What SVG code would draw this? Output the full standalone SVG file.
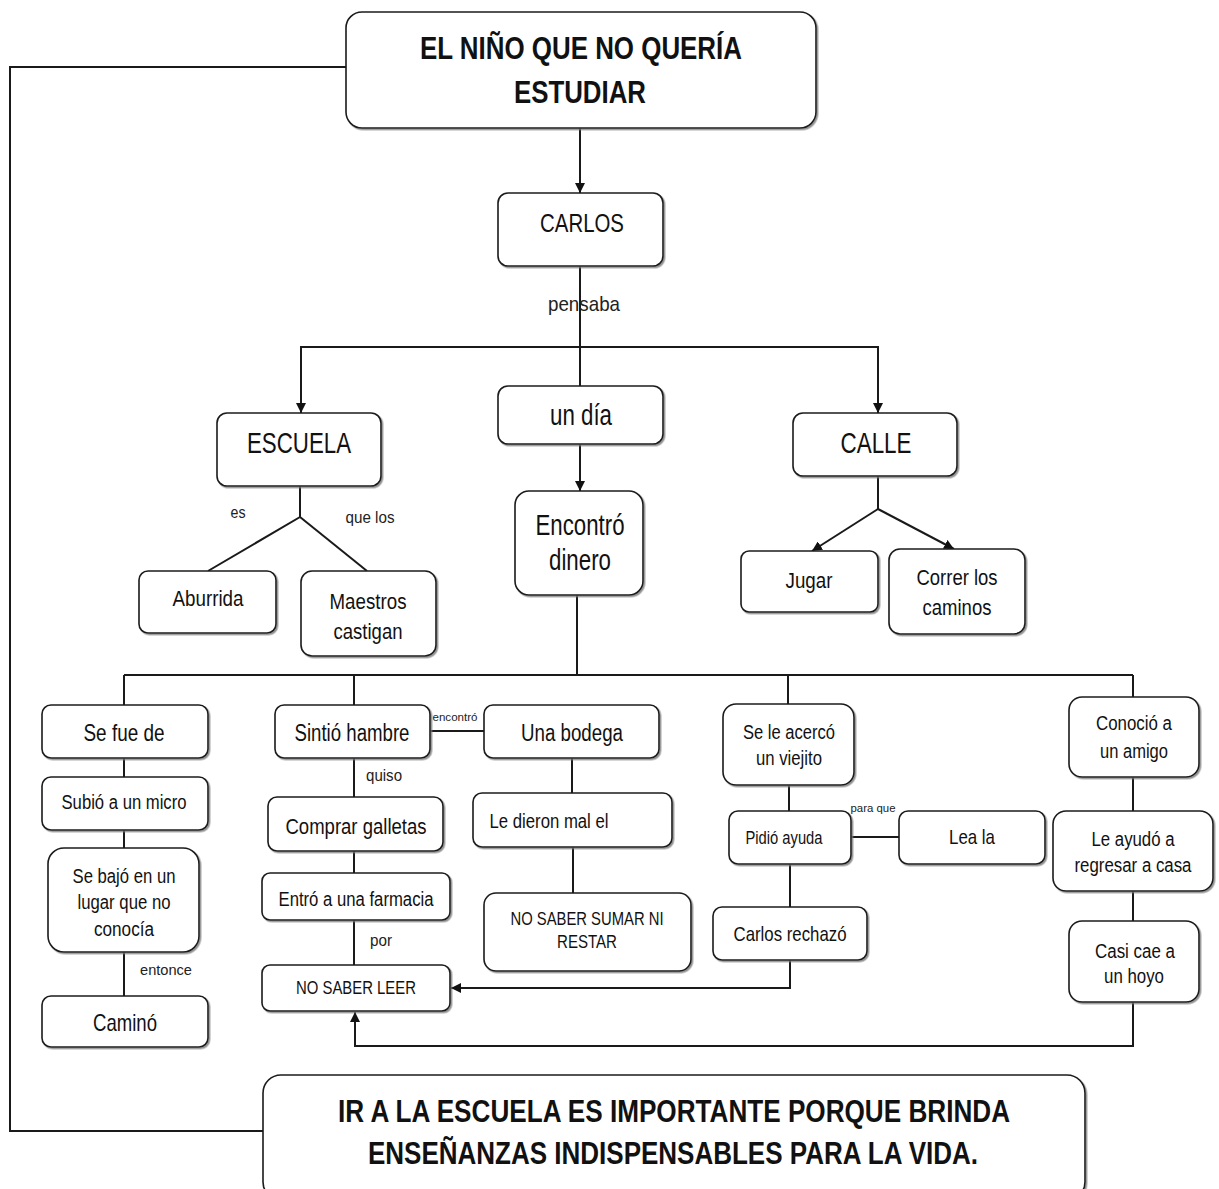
<svg xmlns="http://www.w3.org/2000/svg" width="1219" height="1189" viewBox="0 0 1219 1189">
<defs>
<marker id="arr" viewBox="0 0 10 10" refX="10" refY="5" markerWidth="10" markerHeight="10" markerUnits="userSpaceOnUse" orient="auto">
<path d="M0,0 L10,5 L0,10 z" fill="#111"/>
</marker>
<filter id="sh" x="-5%" y="-5%" width="110%" height="115%">
<feDropShadow dx="1.5" dy="1.5" stdDeviation="0.6" flood-color="#777" flood-opacity="0.8"/>
</filter>
</defs>
<style>
.bx{fill:#fff;stroke:#1a1a1a;stroke-width:1.6;filter:url(#sh)}
.ln{fill:none;stroke:#1a1a1a;stroke-width:2}
.ar{fill:none;stroke:#1a1a1a;stroke-width:2;marker-end:url(#arr)}
text{font-family:"Liberation Sans",Arial,sans-serif;fill:#111;text-anchor:middle}
.b{font-weight:bold}
.lbl{fill:#222}
</style>
<rect width="1219" height="1189" fill="#fff"/>

<g id="connectors">
<polyline class="ln" points="346,67 10,67 10,1131 263,1131"/>
<line class="ar" x1="580" y1="128" x2="580" y2="193"/>
<line class="ln" x1="580" y1="266" x2="580" y2="386"/>
<polyline class="ar" points="580,347 301,347 301,413"/>
<polyline class="ar" points="580,347 878,347 878,413"/>
<line class="ar" x1="580" y1="444" x2="580" y2="491"/>
<polyline class="ln" points="300,486 300,517 208,571"/>
<line class="ln" x1="300" y1="517" x2="367" y2="571"/>
<line class="ln" x1="878" y1="476" x2="878" y2="509"/>
<line class="ar" x1="878" y1="509" x2="812" y2="551"/>
<line class="ar" x1="878" y1="509" x2="954" y2="549"/>
<line class="ln" x1="577" y1="595" x2="577" y2="675"/>
<line class="ln" x1="124" y1="675" x2="1133" y2="675"/>
<line class="ln" x1="124" y1="675" x2="124" y2="705"/>
<line class="ln" x1="354" y1="675" x2="354" y2="705"/>
<line class="ln" x1="788" y1="675" x2="788" y2="704"/>
<line class="ln" x1="1133" y1="675" x2="1133" y2="697"/>
<line class="ln" x1="124" y1="758" x2="124" y2="777"/>
<line class="ln" x1="124" y1="830" x2="124" y2="848"/>
<line class="ln" x1="124" y1="952" x2="124" y2="996"/>
<line class="ln" x1="430" y1="731" x2="484" y2="731"/>
<line class="ln" x1="354" y1="758" x2="354" y2="797"/>
<line class="ln" x1="354" y1="851" x2="354" y2="873"/>
<line class="ln" x1="354" y1="920" x2="354" y2="965"/>
<line class="ln" x1="572" y1="758" x2="572" y2="793"/>
<line class="ln" x1="573" y1="847" x2="573" y2="893"/>
<line class="ln" x1="789" y1="785" x2="789" y2="811"/>
<line class="ln" x1="851" y1="837" x2="899" y2="837"/>
<line class="ln" x1="790" y1="864" x2="790" y2="907"/>
<polyline class="ar" points="790,960 790,988 451,988"/>
<line class="ln" x1="1133" y1="777" x2="1133" y2="811"/>
<line class="ln" x1="1133" y1="891" x2="1133" y2="921"/>
<polyline class="ar" points="1133,1002 1133,1046 355,1046 355,1012"/>
<text class="lbl" x="584" y="311" font-size="21" textLength="72" lengthAdjust="spacingAndGlyphs">pensaba</text>
<text class="lbl" x="238" y="518" font-size="16" textLength="15" lengthAdjust="spacingAndGlyphs">es</text>
<text class="lbl" x="370" y="523" font-size="16" textLength="49" lengthAdjust="spacingAndGlyphs">que los</text>
<text class="lbl" x="166" y="975" font-size="15" textLength="52" lengthAdjust="spacingAndGlyphs">entonce</text>
<text class="lbl" x="455" y="721" font-size="11" textLength="45" lengthAdjust="spacingAndGlyphs">encontró</text>
<text class="lbl" x="384" y="781" font-size="17" textLength="36" lengthAdjust="spacingAndGlyphs">quiso</text>
<text class="lbl" x="381" y="946" font-size="17" textLength="22" lengthAdjust="spacingAndGlyphs">por</text>
<text class="lbl" x="873" y="812" font-size="11" textLength="45" lengthAdjust="spacingAndGlyphs">para que</text>
</g>

<g id="n-title">
<rect class="bx" x="346" y="12" width="470" height="116" rx="16"/>
<text class="b" x="581" y="59" font-size="31" textLength="322" lengthAdjust="spacingAndGlyphs">EL NIÑO QUE NO QUERÍA</text>
<text class="b" x="580" y="103" font-size="31" textLength="132" lengthAdjust="spacingAndGlyphs">ESTUDIAR</text>
</g>
<g id="n-carlos">
<rect class="bx" x="498" y="193" width="165" height="73" rx="10"/>
<text x="582" y="232" font-size="26" textLength="84" lengthAdjust="spacingAndGlyphs">CARLOS</text>
</g>
<g id="n-undia">
<rect class="bx" x="498" y="386" width="165" height="58" rx="10"/>
<text x="581" y="425" font-size="29" textLength="62" lengthAdjust="spacingAndGlyphs">un día</text>
</g>
<g id="n-escuela">
<rect class="bx" x="217" y="413" width="164" height="73" rx="10"/>
<text x="299" y="453" font-size="29" textLength="104" lengthAdjust="spacingAndGlyphs">ESCUELA</text>
</g>
<g id="n-calle">
<rect class="bx" x="793" y="413" width="164" height="63" rx="10"/>
<text x="876" y="453" font-size="29" textLength="71" lengthAdjust="spacingAndGlyphs">CALLE</text>
</g>
<g id="n-encontro">
<rect class="bx" x="515" y="491" width="128" height="104" rx="14"/>
<text x="580" y="535" font-size="29" textLength="89" lengthAdjust="spacingAndGlyphs">Encontró</text>
<text x="580" y="570" font-size="29" textLength="62" lengthAdjust="spacingAndGlyphs">dinero</text>
</g>
<g id="n-aburrida">
<rect class="bx" x="139" y="571" width="137" height="62" rx="9"/>
<text x="208" y="606" font-size="22" textLength="71" lengthAdjust="spacingAndGlyphs">Aburrida</text>
</g>
<g id="n-maestros">
<rect class="bx" x="301" y="571" width="135" height="85" rx="11"/>
<text x="368" y="609" font-size="22" textLength="77" lengthAdjust="spacingAndGlyphs">Maestros</text>
<text x="368" y="639" font-size="22" textLength="69" lengthAdjust="spacingAndGlyphs">castigan</text>
</g>
<g id="n-jugar">
<rect class="bx" x="741" y="551" width="137" height="61" rx="8"/>
<text x="809" y="588" font-size="22" textLength="47" lengthAdjust="spacingAndGlyphs">Jugar</text>
</g>
<g id="n-correr">
<rect class="bx" x="889" y="549" width="136" height="85" rx="11"/>
<text x="957" y="585" font-size="22" textLength="81" lengthAdjust="spacingAndGlyphs">Correr los</text>
<text x="957" y="615" font-size="22" textLength="69" lengthAdjust="spacingAndGlyphs">caminos</text>
</g>

<g id="n-sefue">
<rect class="bx" x="42" y="705" width="166" height="53" rx="9"/>
<text x="124" y="741" font-size="24" textLength="81" lengthAdjust="spacingAndGlyphs">Se fue de</text>
</g>
<g id="n-subio">
<rect class="bx" x="42" y="777" width="166" height="53" rx="9"/>
<text x="124" y="809" font-size="20" textLength="125" lengthAdjust="spacingAndGlyphs">Subió a un micro</text>
</g>
<g id="n-sebajo">
<rect class="bx" x="48" y="848" width="151" height="104" rx="16"/>
<text x="124" y="883" font-size="20" textLength="103" lengthAdjust="spacingAndGlyphs">Se bajó en un</text>
<text x="124" y="909" font-size="20" textLength="93" lengthAdjust="spacingAndGlyphs">lugar que no</text>
<text x="124" y="936" font-size="20" textLength="60" lengthAdjust="spacingAndGlyphs">conocía</text>
</g>
<g id="n-camino">
<rect class="bx" x="42" y="996" width="166" height="51" rx="9"/>
<text x="125" y="1031" font-size="24" textLength="64" lengthAdjust="spacingAndGlyphs">Caminó</text>
</g>
<g id="n-sintio">
<rect class="bx" x="275" y="705" width="155" height="53" rx="9"/>
<text x="352" y="741" font-size="23" textLength="115" lengthAdjust="spacingAndGlyphs">Sintió hambre</text>
</g>
<g id="n-comprar">
<rect class="bx" x="268" y="797" width="175" height="54" rx="9"/>
<text x="356" y="834" font-size="22" textLength="141" lengthAdjust="spacingAndGlyphs">Comprar galletas</text>
</g>
<g id="n-entro">
<rect class="bx" x="262" y="873" width="188" height="47" rx="8"/>
<text x="356" y="906" font-size="20" textLength="155" lengthAdjust="spacingAndGlyphs">Entró a una farmacia</text>
</g>
<g id="n-leer">
<rect class="bx" x="262" y="965" width="188" height="46" rx="8"/>
<text x="356" y="994" font-size="17.5" textLength="120" lengthAdjust="spacingAndGlyphs">NO SABER LEER</text>
</g>
<g id="n-bodega">
<rect class="bx" x="484" y="705" width="175" height="53" rx="9"/>
<text x="572" y="741" font-size="23" textLength="102" lengthAdjust="spacingAndGlyphs">Una bodega</text>
</g>
<g id="n-dieron">
<rect class="bx" x="473" y="793" width="199" height="54" rx="9"/>
<text x="549" y="828" font-size="20" textLength="119" lengthAdjust="spacingAndGlyphs">Le dieron mal el</text>
</g>
<g id="n-sumar">
<rect class="bx" x="484" y="893" width="207" height="78" rx="12"/>
<text x="587" y="925" font-size="17.5" textLength="153" lengthAdjust="spacingAndGlyphs">NO SABER SUMAR NI</text>
<text x="587" y="948" font-size="17.5" textLength="60" lengthAdjust="spacingAndGlyphs">RESTAR</text>
</g>
<g id="n-viejito">
<rect class="bx" x="723" y="704" width="131" height="81" rx="13"/>
<text x="789" y="739" font-size="20" textLength="92" lengthAdjust="spacingAndGlyphs">Se le acercó</text>
<text x="789" y="765" font-size="20" textLength="66" lengthAdjust="spacingAndGlyphs">un viejito</text>
</g>
<g id="n-pidio">
<rect class="bx" x="729" y="811" width="122" height="53" rx="9"/>
<text x="784" y="844" font-size="17.5" textLength="77" lengthAdjust="spacingAndGlyphs">Pidió ayuda</text>
</g>
<g id="n-lea">
<rect class="bx" x="899" y="811" width="146" height="53" rx="9"/>
<text x="972" y="844" font-size="21" textLength="46" lengthAdjust="spacingAndGlyphs">Lea la</text>
</g>
<g id="n-rechazo">
<rect class="bx" x="713" y="907" width="154" height="53" rx="9"/>
<text x="790" y="941" font-size="21" textLength="113" lengthAdjust="spacingAndGlyphs">Carlos rechazó</text>
</g>
<g id="n-amigo">
<rect class="bx" x="1069" y="697" width="130" height="80" rx="13"/>
<text x="1134" y="730" font-size="20" textLength="76" lengthAdjust="spacingAndGlyphs">Conoció a</text>
<text x="1134" y="758" font-size="20" textLength="68" lengthAdjust="spacingAndGlyphs">un amigo</text>
</g>
<g id="n-ayudo">
<rect class="bx" x="1053" y="811" width="160" height="80" rx="13"/>
<text x="1133" y="846" font-size="20" textLength="83" lengthAdjust="spacingAndGlyphs">Le ayudó a</text>
<text x="1133" y="872" font-size="20" textLength="117" lengthAdjust="spacingAndGlyphs">regresar a casa</text>
</g>
<g id="n-hoyo">
<rect class="bx" x="1069" y="921" width="130" height="81" rx="13"/>
<text x="1135" y="958" font-size="20" textLength="80" lengthAdjust="spacingAndGlyphs">Casi cae a</text>
<text x="1134" y="983" font-size="20" textLength="60" lengthAdjust="spacingAndGlyphs">un hoyo</text>
</g>
<g id="n-conclusion">
<rect class="bx" x="263" y="1075" width="822" height="125" rx="18"/>
<text class="b" x="674" y="1122" font-size="31" textLength="672" lengthAdjust="spacingAndGlyphs">IR A LA ESCUELA ES IMPORTANTE PORQUE BRINDA</text>
<text class="b" x="673" y="1164" font-size="31" textLength="610" lengthAdjust="spacingAndGlyphs">ENSEÑANZAS INDISPENSABLES PARA LA VIDA.</text>
</g>
</svg>
